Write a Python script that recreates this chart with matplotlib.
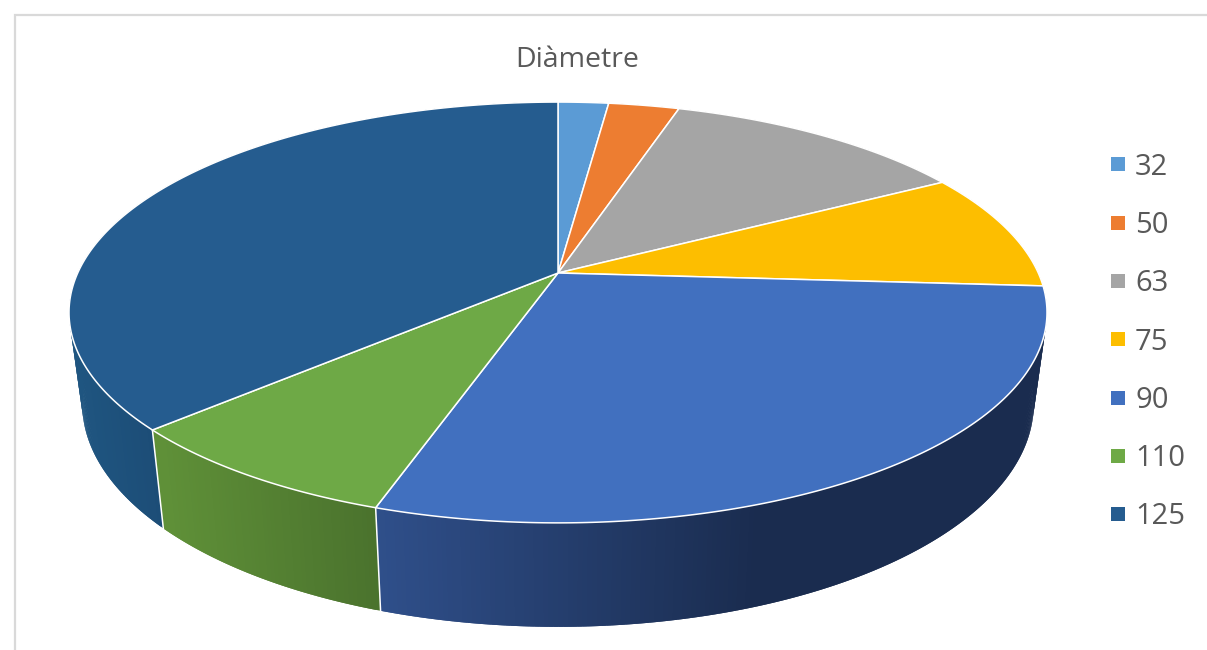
import matplotlib
matplotlib.use('Agg')
import matplotlib.pyplot as plt
from matplotlib.collections import PolyCollection
from matplotlib.colors import to_rgb
from matplotlib.lines import Line2D
import numpy as np

# --- data ---
labels = ['32', '50', '63', '75', '90', '110', '125']
shares = [2.0, 2.8, 12.1, 9.1, 29.05, 8.15, 36.8]
colors = ['#5B9BD5', '#ED7D31', '#A5A5A5', '#FDBE00', '#4170BF', '#6EA946', '#255C8F']

# side wall gradient per slice: colour at left end, colour at right end, x span
side_from = ['#3A6A96', '#8F4B1E', '#636363', '#997300', '#2F4F8A', '#5F9038', '#1F5580']
side_to = ['#3A6A96', '#8F4B1E', '#636363', '#997300', '#1A2C4F', '#4A722D', '#1C4C76']
side_span = [(0, 1), (0, 1), (0, 1), (0, 1), (380, 760), (163, 380), (75, 163)]

# --- perspective of the disc, in pixels ---
CX, CY = 558, 273
A, B, K = 480.3, 203.0, 0.1876
SX, SY, DROP = 0.973, 1.06, 89


def top_xy(theta):
    u, v = np.sin(theta), np.cos(theta)
    w = 1 + K * v
    return CX + A * u / w, CY - B * v / w


def bottom_xy(theta):
    x, y = top_xy(theta)
    return CX + SX * (x - CX), CY + DROP + SY * (y - CY)


fig = plt.figure(figsize=(12.07, 6.5), dpi=100)
ax = fig.add_axes([0, 0, 1, 1])
ax.set_xlim(0, 1207)
ax.set_ylim(650, 0)
ax.axis('off')

# chart frame, cut off by the screenshot
ax.plot([1207, 15, 15], [15, 15, 650], color='#D9D9D9', lw=1.6, solid_joinstyle='miter')

edges = np.radians(np.concatenate([[0], np.cumsum(shares)]) * 3.6)

# side walls first, the top covers whatever is behind it
for i in range(len(shares)):
    th = np.linspace(edges[i], edges[i + 1], max(int((edges[i + 1] - edges[i]) * 120), 4))
    tx, ty = top_xy(th)
    bx, by = bottom_xy(th)
    polys = []
    cols = []
    c0, c1 = np.array(to_rgb(side_from[i])), np.array(to_rgb(side_to[i]))
    for j in range(len(th) - 1):
        # each strip runs over into the next one so no seams show through
        k = min(j + 2, len(th) - 1)
        polys.append([(tx[j], ty[j]), (tx[k], ty[k]), (bx[k], by[k]), (bx[j], by[j])])
        t = np.clip((tx[j] - side_span[i][0]) / (side_span[i][1] - side_span[i][0]), 0, 1)
        cols.append(c0 + (c1 - c0) * t)
    ax.add_collection(PolyCollection(polys, facecolors=cols, edgecolors='none', zorder=2))

# white seams between the walls, only the ones at the front can be seen
for e in edges[:-1]:
    if np.cos(e) < -0.3:
        x0, y0 = top_xy(e)
        x1, y1 = bottom_xy(e)
        ax.plot([x0, x1], [y0, y1], color='white', lw=1.1, zorder=3)

# top face
for i in range(len(shares)):
    th = np.linspace(edges[i], edges[i + 1], 200)
    tx, ty = top_xy(th)
    ax.fill(np.r_[CX, tx], np.r_[CY, ty], facecolor=colors[i], edgecolor='white', lw=1.1,
            joinstyle='round', zorder=4)

ax.text(577, 60, 'Diàmetre', ha='center', va='center', fontsize=20.5, color='#595959',
        family='Open Sans')

handles = [Line2D([], [], ls='none', marker='s', ms=9.8, mew=0, color=c) for c in colors]
ax.legend(handles, labels, loc='center left', bbox_to_anchor=(1103, 342), bbox_transform=ax.transData,
          frameon=False, labelspacing=1.005, handletextpad=0.1, handlelength=1.0, borderpad=0, borderaxespad=0,
          prop={'family': 'Open Sans', 'size': 21}, labelcolor='#595959')

plt.savefig('out.png', dpi=100)
plt.close()
